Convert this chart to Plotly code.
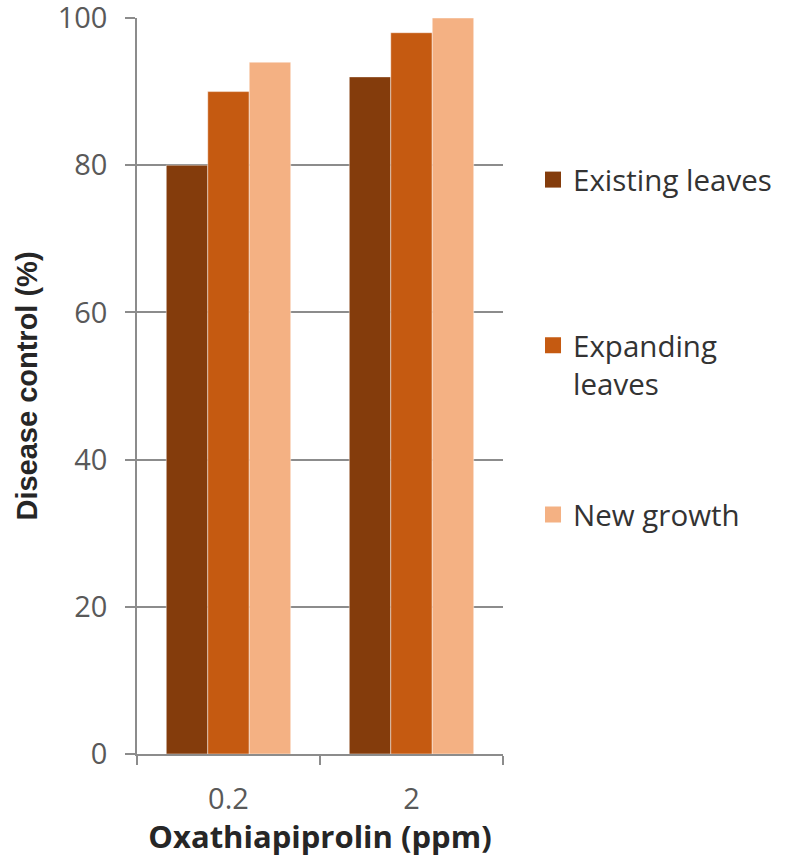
import plotly.graph_objects as go

# Data
doses = ["0.2", "2"]
series_names = ["Existing leaves", "Expanding<br>leaves", "New growth"]
existing_leaves = [80, 92]
expanding_leaves = [90, 98]
new_growth = [94, 100]
series_values = [existing_leaves, expanding_leaves, new_growth]
colors = ["#843C0C", "#C55A11", "#F4B183"]
y_ticks = [0, 20, 40, 60, 80, 100]

fig = go.Figure()

for name, vals, col in zip(series_names, series_values, colors):
    fig.add_trace(go.Bar(
        x=doses, y=vals, name=name, marker_color=col,
        marker_line=dict(color="rgba(255,255,255,0.45)", width=1),
        showlegend=False,
    ))

# Legend entries, each in its own legend box so they can be spaced freely
legend_ids = ["legend", "legend2", "legend3"]
legend_y = [0.78, 0.529, 0.325]
for name, col, lid in zip(series_names, colors, legend_ids):
    fig.add_trace(go.Scatter(
        x=[None], y=[None], mode="markers", name=name, legend=lid,
        marker=dict(symbol="square", size=20, color=col),
    ))

base_font = "'Open Sans', 'Noto Sans', sans-serif"
legend_font = dict(family=base_font, size=29.5, color="#333333")
legend_common = dict(x=1.082, xanchor="left", yanchor="middle", font=legend_font,
                     bgcolor="rgba(0,0,0,0)", valign="top", itemclick=False)
x_title_font = dict(family=base_font, size=31, color="#262626")
y_title_font = dict(family="'Liberation Sans', Arial, sans-serif", size=29, color="#262626")
tick_font = dict(family=base_font, size=29, color="#595959")

fig.update_layout(
    width=790, height=857,
    margin=dict(l=137, r=287, t=18, b=103),
    paper_bgcolor="white", plot_bgcolor="white",
    barmode="group", bargap=0.32, bargroupgap=0,
    legend=dict(y=legend_y[0], **legend_common),
    legend2=dict(y=legend_y[1], **legend_common),
    legend3=dict(y=legend_y[2], **legend_common),
    xaxis=dict(
        title=dict(text="<b>Oxathiapiprolin (ppm)</b>", font=x_title_font, standoff=6),
        tickfont=tick_font, automargin=False, ticklabelstandoff=18,
        ticklabeloverflow="allow",
        showline=True, linecolor="#8c8c8c", linewidth=1.5,
        ticks="outside", tickson="boundaries", ticklen=9, tickwidth=1.5, tickcolor="#8c8c8c",
        showgrid=False,
    ),
    yaxis=dict(
        title=dict(text="<b>Disease control (%)</b>", font=y_title_font, standoff=12),
        range=[0, 100], tickvals=y_ticks, automargin=False,
        tickfont=tick_font, ticklabelstandoff=12, ticklabeloverflow="allow",
        showline=True, linecolor="#8c8c8c", linewidth=1.5,
        ticks="outside", ticklen=10, tickwidth=1.5, tickcolor="#8c8c8c",
        showgrid=True, gridcolor="#8c8c8c", gridwidth=1.5,
        zeroline=False,
    ),
)

fig.write_html("out.html")
